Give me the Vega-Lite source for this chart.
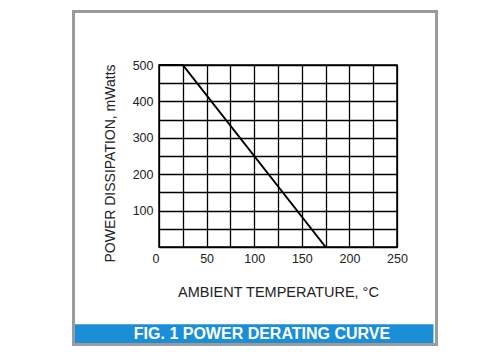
{
  "$schema": "https://vega.github.io/schema/vega-lite/v6.json",
  "width": 238,
  "height": 182,
  "autosize": "none",
  "padding": {"left": 159, "top": 65, "right": 103, "bottom": 111},
  "background": "white",
  "config": {
    "font": "Liberation Sans",
    "view": {"stroke": "black", "strokeWidth": 1.5}
  },
  "encoding": {
    "x": {
      "field": "temp",
      "type": "quantitative",
      "scale": {"domain": [0, 250], "nice": false, "zero": false},
      "axis": {
        "values": [0, 25, 50, 75, 100, 125, 150, 175, 200, 225, 250],
        "grid": true,
        "gridColor": "black",
        "gridWidth": 1.3,
        "gridOpacity": 1,
        "ticks": false,
        "domain": false,
        "labelExpr": "datum.value % 50 == 0 ? datum.label : ''",
        "labelAlign": {"condition": {"test": "datum.value == 0", "value": "right"}, "value": "center"},
        "labelFlush": false,
        "labelOverlap": false,
        "labelPadding": 5,
        "labelFontSize": 12.5,
        "labelColor": "#222222",
        "title": "AMBIENT TEMPERATURE, °C",
        "titleFontSize": 14.5,
        "titleFontWeight": "normal",
        "titleColor": "#222222",
        "titleBaseline": "alphabetic",
        "titleY": 49
      }
    },
    "y": {
      "field": "power",
      "type": "quantitative",
      "scale": {"domain": [0, 500], "nice": false, "zero": false},
      "axis": {
        "values": [0, 50, 100, 150, 200, 250, 300, 350, 400, 450, 500],
        "grid": true,
        "gridColor": "black",
        "gridWidth": 1.3,
        "gridOpacity": 1,
        "ticks": false,
        "domain": false,
        "labelExpr": "datum.value % 100 == 0 && datum.value > 0 ? datum.label : ''",
        "labelFlush": false,
        "labelOverlap": false,
        "labelPadding": 6,
        "labelFontSize": 12.5,
        "labelColor": "#222222",
        "title": "POWER DISSIPATION, mWatts",
        "titleFontSize": 14,
        "titleFontWeight": "normal",
        "titleColor": "#222222",
        "titleAngle": 270,
        "titleAlign": "center",
        "titleBaseline": "alphabetic",
        "titleX": -44.7,
        "titleY": 98
      }
    }
  },
  "layer": [
    {
      "data": {"values": [{"temp": -88.8, "power": -212.4, "temp2": 288.3, "power2": -264.6}]},
      "mark": {"type": "rect", "color": "#1a8ed6", "clip": false},
      "encoding": {
        "x2": {"field": "temp2"},
        "y2": {"field": "power2"}
      }
    },
    {
      "data": {"values": [{"temp": -89.8, "power": 647, "temp2": 291.5, "power2": -267.9}]},
      "mark": {"type": "rect", "filled": false, "stroke": "#9b9b9b", "strokeWidth": 3, "clip": false},
      "encoding": {
        "x2": {"field": "temp2"},
        "y2": {"field": "power2"}
      }
    },
    {
      "data": {"values": [{"temp": 108.2, "power": -253.6, "label": "FIG. 1 POWER DERATING CURVE"}]},
      "mark": {"type": "text", "color": "white", "fontWeight": "bold", "fontSize": 16, "align": "center", "baseline": "alphabetic", "clip": false},
      "encoding": {
        "text": {"field": "label"}
      }
    },
    {
      "data": {"values": [
        {"temp": 0, "power": 500},
        {"temp": 25, "power": 500},
        {"temp": 175, "power": 0}
      ]},
      "mark": {"type": "line", "color": "black", "strokeWidth": 2},
      "encoding": {}
    }
  ]
}
